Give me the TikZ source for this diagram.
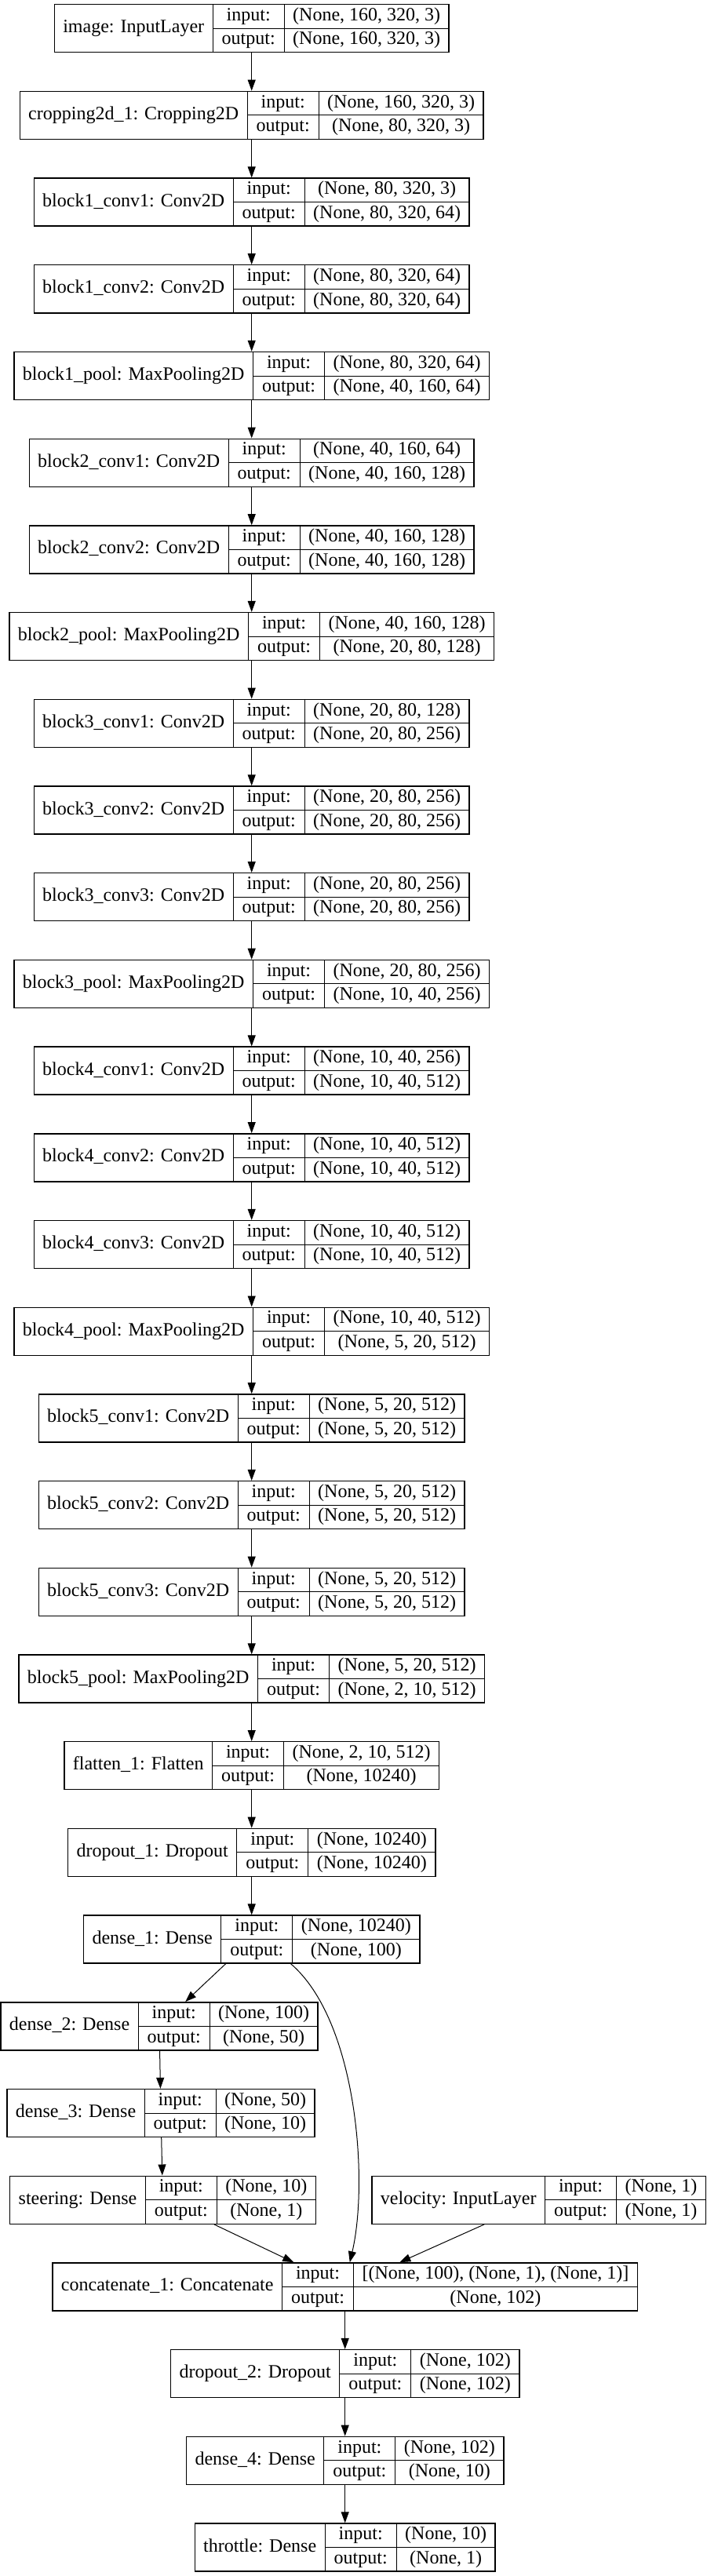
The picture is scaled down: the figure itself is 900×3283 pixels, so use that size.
\documentclass[tikz,border=0pt]{standalone}
\usepackage{fontspec}
\setmainfont{Liberation Serif}
\usetikzlibrary{arrows.meta,fit}

\newcommand\layerfont{\fontsize{24}{28}\selectfont}
\newlength\namew
\newlength\valw
\newlength\valwb
\newlength\totw
% one layer record: node name, x, y, label, input shape, output shape
\newcommand\layer[6]{%
  \pgfinterruptpicture
    \settowidth\namew{\layerfont #4}%
    \settowidth\valw{\layerfont #5}%
    \settowidth\valwb{\layerfont #6}%
    \ifdim\valwb>\valw \valw=\valwb\fi
    \global\namew=\dimexpr\namew+22pt\relax
    \global\valw=\dimexpr\valw+22pt\relax
    \global\totw=\dimexpr\namew+91pt+\valw\relax
  \endpgfinterruptpicture
  \node[namecell, minimum width=\namew, anchor=west, xshift=-0.5\totw] (#1-name) at (#2,#3) {#4};
  \node[iocell, anchor=north west] (#1-in) at (#1-name.north east) {input:};
  \node[iocell, anchor=north west] (#1-out) at (#1-in.south west) {output:};
  \node[valcell, minimum width=\valw, anchor=north west] (#1-inv) at (#1-in.north east) {#5};
  \node[valcell, minimum width=\valw, anchor=north west] (#1-outv) at (#1-out.north east) {#6};
  \node[layerbox, fit=(#1-name)(#1-outv)] (#1) {};
}

\begin{document}
\begin{tikzpicture}[x=1pt, y=-1pt]
	\tikzstyle{layercell} = [draw=black, line width=1pt, outer sep=0pt, inner ysep=0pt, inner xsep=11pt, font=\layerfont, text height=16pt, text depth=5pt]
	\tikzstyle{namecell} = [layercell, minimum height=61pt]
	\tikzstyle{iocell} = [layercell, minimum width=91pt, minimum height=30.5pt]
	\tikzstyle{valcell} = [layercell, minimum height=30.5pt]
	\tikzstyle{layerbox} = [draw=black, line width=1.4pt, inner sep=0pt]
	\tikzstyle{edge} = [-{Triangle[length=14pt,width=10pt]}, line width=1pt]
	\useasboundingbox (0,0) rectangle (900,3283);
	% main column
	\layer{image}{320.7}{36.2}{image: InputLayer}{(None, 160, 320, 3)}{(None, 160, 320, 3)}
	\layer{crop}{320.7}{146.9}{cropping2d\_1: Cropping2D}{(None, 160, 320, 3)}{(None, 80, 320, 3)}
	\layer{b1c1}{320.7}{257.6}{block1\_conv1: Conv2D}{(None, 80, 320, 3)}{(None, 80, 320, 64)}
	\layer{b1c2}{320.7}{368.3}{block1\_conv2: Conv2D}{(None, 80, 320, 64)}{(None, 80, 320, 64)}
	\layer{b1p}{320.7}{479.0}{block1\_pool: MaxPooling2D}{(None, 80, 320, 64)}{(None, 40, 160, 64)}
	\layer{b2c1}{320.7}{589.7}{block2\_conv1: Conv2D}{(None, 40, 160, 64)}{(None, 40, 160, 128)}
	\layer{b2c2}{320.7}{700.4}{block2\_conv2: Conv2D}{(None, 40, 160, 128)}{(None, 40, 160, 128)}
	\layer{b2p}{320.7}{811.1}{block2\_pool: MaxPooling2D}{(None, 40, 160, 128)}{(None, 20, 80, 128)}
	\layer{b3c1}{320.7}{921.8}{block3\_conv1: Conv2D}{(None, 20, 80, 128)}{(None, 20, 80, 256)}
	\layer{b3c2}{320.7}{1032.5}{block3\_conv2: Conv2D}{(None, 20, 80, 256)}{(None, 20, 80, 256)}
	\layer{b3c3}{320.7}{1143.2}{block3\_conv3: Conv2D}{(None, 20, 80, 256)}{(None, 20, 80, 256)}
	\layer{b3p}{320.7}{1253.9}{block3\_pool: MaxPooling2D}{(None, 20, 80, 256)}{(None, 10, 40, 256)}
	\layer{b4c1}{320.7}{1364.6}{block4\_conv1: Conv2D}{(None, 10, 40, 256)}{(None, 10, 40, 512)}
	\layer{b4c2}{320.7}{1475.3}{block4\_conv2: Conv2D}{(None, 10, 40, 512)}{(None, 10, 40, 512)}
	\layer{b4c3}{320.7}{1586.0}{block4\_conv3: Conv2D}{(None, 10, 40, 512)}{(None, 10, 40, 512)}
	\layer{b4p}{320.7}{1696.7}{block4\_pool: MaxPooling2D}{(None, 10, 40, 512)}{(None, 5, 20, 512)}
	\layer{b5c1}{320.7}{1807.4}{block5\_conv1: Conv2D}{(None, 5, 20, 512)}{(None, 5, 20, 512)}
	\layer{b5c2}{320.7}{1918.1}{block5\_conv2: Conv2D}{(None, 5, 20, 512)}{(None, 5, 20, 512)}
	\layer{b5c3}{320.7}{2028.8}{block5\_conv3: Conv2D}{(None, 5, 20, 512)}{(None, 5, 20, 512)}
	\layer{b5p}{320.7}{2139.5}{block5\_pool: MaxPooling2D}{(None, 5, 20, 512)}{(None, 2, 10, 512)}
	\layer{flat}{320.7}{2250.2}{flatten\_1: Flatten}{(None, 2, 10, 512)}{(None, 10240)}
	\layer{drop1}{320.7}{2360.9}{dropout\_1: Dropout}{(None, 10240)}{(None, 10240)}
	\layer{dense1}{320.7}{2471.6}{dense\_1: Dense}{(None, 10240)}{(None, 100)}
	% steering branch
	\layer{dense2}{203}{2582.3}{dense\_2: Dense}{(None, 100)}{(None, 50)}
	\layer{dense3}{205}{2693.0}{dense\_3: Dense}{(None, 50)}{(None, 10)}
	\layer{steer}{207.5}{2803.7}{steering: Dense}{(None, 10)}{(None, 1)}
	\layer{velo}{686.7}{2803.7}{velocity: InputLayer}{(None, 1)}{(None, 1)}
	% throttle head
	\layer{concat}{439.7}{2914.4}{concatenate\_1: Concatenate}{[(None, 100), (None, 1), (None, 1)]}{(None, 102)}
	\layer{drop2}{439.7}{3025.1}{dropout\_2: Dropout}{(None, 102)}{(None, 102)}
	\layer{dense4}{439.7}{3135.8}{dense\_4: Dense}{(None, 102)}{(None, 10)}
	\layer{throt}{439.7}{3246.5}{throttle: Dense}{(None, 10)}{(None, 1)}
	\draw[edge] (image) -- (crop);
	\draw[edge] (crop) -- (b1c1);
	\draw[edge] (b1c1) -- (b1c2);
	\draw[edge] (b1c2) -- (b1p);
	\draw[edge] (b1p) -- (b2c1);
	\draw[edge] (b2c1) -- (b2c2);
	\draw[edge] (b2c2) -- (b2p);
	\draw[edge] (b2p) -- (b3c1);
	\draw[edge] (b3c1) -- (b3c2);
	\draw[edge] (b3c2) -- (b3c3);
	\draw[edge] (b3c3) -- (b3p);
	\draw[edge] (b3p) -- (b4c1);
	\draw[edge] (b4c1) -- (b4c2);
	\draw[edge] (b4c2) -- (b4c3);
	\draw[edge] (b4c3) -- (b4p);
	\draw[edge] (b4p) -- (b5c1);
	\draw[edge] (b5c1) -- (b5c2);
	\draw[edge] (b5c2) -- (b5c3);
	\draw[edge] (b5c3) -- (b5p);
	\draw[edge] (b5p) -- (flat);
	\draw[edge] (flat) -- (drop1);
	\draw[edge] (drop1) -- (dense1);
	\draw[edge] (dense1) -- (dense2);
	\draw[edge] (dense2) -- (dense3);
	\draw[edge] (dense3) -- (steer);
	\draw[edge] (steer) -- (concat);
	\draw[edge] (velo) -- (concat);
	\draw[edge] (dense1.-32) .. controls (455,2575) and (470,2780) .. (concat.79);
	\draw[edge] (concat) -- (drop2);
	\draw[edge] (drop2) -- (dense4);
	\draw[edge] (dense4) -- (throt);
\end{tikzpicture}
\end{document}
